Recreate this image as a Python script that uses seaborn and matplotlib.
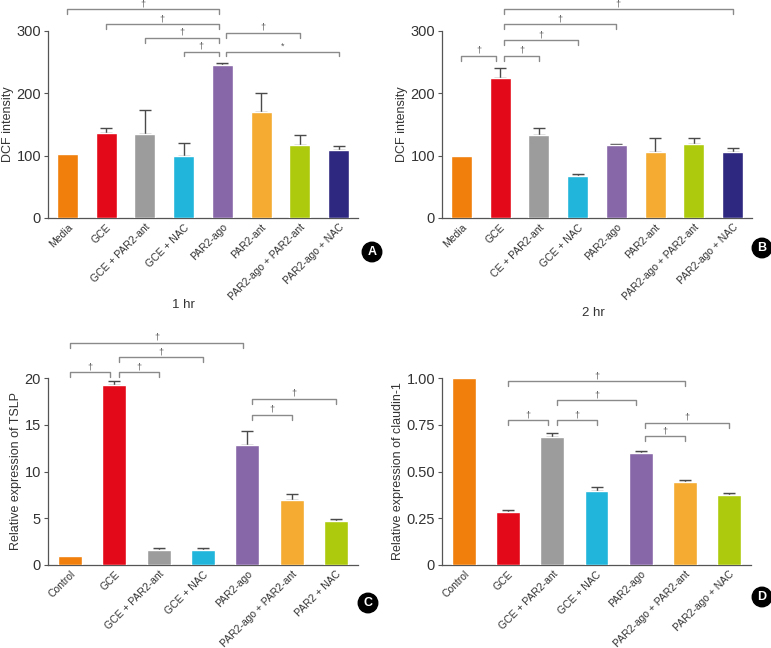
#!/usr/bin/env python3
"""
Four-panel bar chart: DCF intensity (1 hr, 2 hr) and relative expression
of TSLP and claudin-1, with significance brackets.
"""

import pandas as pd
import seaborn as sns
import matplotlib.pyplot as plt

# ---- data -----------------------------------------------------------------
groups_ab = ["Media", "GCE", "GCE + PAR2-ant", "GCE + NAC", "PAR2-ago",
             "PAR2-ant", "PAR2-ago + PAR2-ant", "PAR2-ago + NAC"]
groups_b = ["Media", "GCE", "CE + PAR2-ant", "GCE + NAC", "PAR2-ago",
            "PAR2-ant", "PAR2-ago + PAR2-ant", "PAR2-ago + NAC"]
colors_ab = ["#F07F0B", "#E30918", "#9C9C9C", "#22B5DB", "#8867A8",
             "#F5AB31", "#AECA0C", "#2F2880"]

dcf_1hr = [102, 137, 135, 100, 245, 170, 117, 109]
dcf_1hr_err = [0, 7, 38, 20, 3, 30, 16, 6]
dcf_2hr = [100, 225, 133, 67, 117, 106, 119, 106]
dcf_2hr_err = [0, 15, 12, 4, 2, 23, 10, 6]

groups_c = ["Control", "GCE", "GCE + PAR2-ant", "GCE + NAC", "PAR2-ago",
            "PAR2-ago + PAR2-ant", "PAR2 + NAC"]
groups_d = ["Control", "GCE", "GCE + PAR2-ant", "GCE + NAC", "PAR2-ago",
            "PAR2-ago + PAR2-ant", "PAR2-ago + NAC"]
colors_cd = colors_ab[:7]

tslp = [1.0, 19.25, 1.6, 1.6, 12.85, 6.95, 4.68]
tslp_err = [0, 0.45, 0.2, 0.25, 1.5, 0.6, 0.2]
claudin = [1.0, 0.282, 0.686, 0.396, 0.598, 0.445, 0.375]
claudin_err = [0, 0.011, 0.022, 0.02, 0.013, 0.009, 0.009]

# significance brackets: (left index, right index, height, label)
sig_a = [(0, 4, 335, "†"), (1, 4, 311, "†"), (2, 4, 289, "†"), (3, 4, 267, "†"),
         (4, 6, 297, "†"), (4, 7, 267, "*")]
sig_b = [(0, 1, 260, "†"), (1, 2, 260, "†"), (1, 3, 285, "†"),
         (1, 4, 311, "†"), (1, 7, 335, "†")]
sig_c = [(0, 4, 23.75, "†"), (1, 3, 22.2, "†"), (0, 1, 20.6, "†"),
         (1, 2, 20.6, "†"), (4, 5, 16.05, "†"), (4, 6, 17.75, "†")]
sig_d = [(1, 5, 0.982, "†"), (2, 4, 0.880, "†"), (1, 2, 0.773, "†"),
         (2, 3, 0.773, "†"), (4, 6, 0.761, "†"), (4, 5, 0.6875, "†")]

sns.set_theme(style="white")
plt.rcParams["font.family"] = ["Liberation Sans", "DejaVu Sans"]

AXIS_COL = "#555555"


def draw_panel(ax, groups, values, errs, colors, sig, ymax, yticks, yticklabels,
               ylabel):
    df = pd.DataFrame({"group": groups, "value": values})
    sns.barplot(data=df, x="group", y="value", hue="group", palette=colors,
                width=0.54, saturation=1, legend=False, ax=ax, zorder=3)
    # upper error bars only, skip groups without one
    idx = [i for i, e in enumerate(errs) if e > 0]
    ax.errorbar(idx, [values[i] for i in idx],
                yerr=[[0] * len(idx), [errs[i] for i in idx]], fmt="none",
                ecolor="#4a4a4a", elinewidth=1, capsize=4, capthick=1, zorder=2)

    xs = list(range(len(groups)))
    ax.set_xlim(-0.5, len(groups) - 0.5)
    ax.set_ylim(0, ymax)
    ax.set_yticks(yticks)
    ax.set_yticklabels(yticklabels, fontsize=10.5, color="#333333")
    ax.set_xticks(xs)
    ax.set_xticklabels(groups, rotation=45, ha="right", rotation_mode="anchor",
                       fontsize=7.5, color="#333333")
    ax.set_xticks([i + 0.5 for i in xs], minor=True)
    ax.tick_params(axis="x", which="major", length=0, pad=3)
    ax.tick_params(axis="x", which="minor", length=3, color=AXIS_COL, width=0.8,
                   direction="out")
    ax.tick_params(axis="y", length=3, color=AXIS_COL, width=0.8, direction="out",
                   left=True, pad=2)
    ax.set_xlabel("")
    ax.set_ylabel(ylabel, fontsize=9, color="#333333", labelpad=2)
    for s in ("top", "right"):
        ax.spines[s].set_visible(False)
    for s in ("left", "bottom"):
        ax.spines[s].set_color(AXIS_COL)
        ax.spines[s].set_linewidth(0.9)

    # brackets: shift endpoints off a bar that is shared on both sides
    lefts = {s[0] for s in sig}
    rights = {s[1] for s in sig}
    shared = lefts & rights
    drop = ymax * 0.026
    for i, j, h, lab in sig:
        x1 = i + (0.1 if i in shared else 0)
        x2 = j - (0.1 if j in shared else 0)
        ax.plot([x1, x1, x2, x2], [h - drop, h, h, h - drop], color="#8a8a8a",
                lw=1, clip_on=False, zorder=4)
        ax.text((x1 + x2) / 2, h + ymax * 0.006, lab, ha="center", va="bottom",
                fontsize=6.5, color="#555555", clip_on=False)


fig = plt.figure(figsize=(7.71, 6.48), dpi=100)
W, H = 771, 648
ax_a = fig.add_axes([48 / W, 1 - 218 / H, 310 / W, 187 / H])
ax_b = fig.add_axes([442 / W, 1 - 218 / H, 310 / W, 187 / H])
ax_c = fig.add_axes([48 / W, 1 - 565 / H, 310 / W, 187 / H])
ax_d = fig.add_axes([442 / W, 1 - 565 / H, 309 / W, 187 / H])

draw_panel(ax_a, groups_ab, dcf_1hr, dcf_1hr_err, colors_ab, sig_a, 300,
           [0, 100, 200, 300], ["0", "100", "200", "300"], "DCF intensity")
draw_panel(ax_b, groups_b, dcf_2hr, dcf_2hr_err, colors_ab, sig_b, 300,
           [0, 100, 200, 300], ["0", "100", "200", "300"], "DCF intensity")
draw_panel(ax_c, groups_c, tslp, tslp_err, colors_cd, sig_c, 20,
           [0, 5, 10, 15, 20], ["0", "5", "10", "15", "20"],
           "Relative expression of TSLP")
draw_panel(ax_d, groups_d, claudin, claudin_err, colors_cd, sig_d, 1.0,
           [0, 0.25, 0.5, 0.75, 1.0], ["0", "0.25", "0.50", "0.75", "1.00"],
           "Relative expression of claudin-1")

fig.text(183 / W, 1 - 305 / H, "1 hr", ha="center", va="center", fontsize=9.5,
         color="#333333")
fig.text(593 / W, 1 - 313 / H, "2 hr", ha="center", va="center", fontsize=9.5,
         color="#333333")

for letter, (px, py) in zip("ABCD", [(372, 252), (762, 248), (368, 603), (762, 597)]):
    fig.text(px / W, 1 - py / H, letter, ha="center", va="center", fontsize=9,
             fontweight="bold", color="white",
             bbox=dict(boxstyle="circle,pad=0.3", fc="black", ec="black"))

fig.savefig("out.png", dpi=100)
plt.close(fig)
